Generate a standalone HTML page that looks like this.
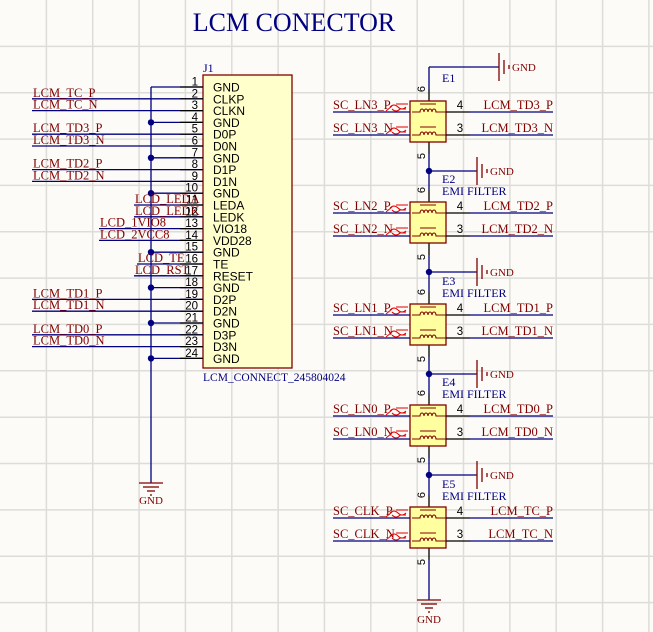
<!DOCTYPE html>
<html><head><meta charset="utf-8"><style>
html,body{margin:0;padding:0;background:#fdfbf7}
svg{display:block}
.s{font-family:"Liberation Serif",serif}
.a{font-family:"Liberation Sans",sans-serif}
</style></head><body>
<svg id="g" width="653" height="632" xmlns="http://www.w3.org/2000/svg"></svg>
<script>
var s='';
var G=46.35;
for(var i=1;i<15;i++){var v=(i*G).toFixed(1);s+='<line x1="'+v+'" y1="0" x2="'+v+'" y2="632" stroke="#dcdcd8" stroke-width="1.5"/>';s+='<line x1="0" y1="'+v+'" x2="653" y2="'+v+'" stroke="#dcdcd8" stroke-width="1.5"/>';}
var B='#000080',R='#800000';
function L(x1,y1,x2,y2,c,w){s+='<line x1="'+x1+'" y1="'+y1+'" x2="'+x2+'" y2="'+y2+'" stroke="'+c+'" stroke-width="'+(w||1.3)+'"/>';}
function T(x,y,t,c,sz,cls,anc,extra){s+='<text x="'+x+'" y="'+y+'" fill="'+c+'" font-size="'+sz+'" class="'+cls+'"'+(anc?' text-anchor="'+anc+'"':'')+(extra||'')+'>'+t+'</text>';}
function D(x,y){s+='<circle cx="'+x+'" cy="'+y+'" r="3.2" fill="'+B+'"/>';}
T(294,31,'LCM CONECTOR',B,26,'s','middle');
s+='<rect x="203" y="75" width="89" height="293" fill="#ffffcc" stroke="'+R+'" stroke-width="1.3"/>';
T(203,72,'J1',B,12,'s');
T(203,381,'LCM_CONNECT_245804024',B,11.5,'s');
var names=['GND','CLKP','CLKN','GND','D0P','D0N','GND','D1P','D1N','GND','LEDA','LEDK','VIO18','VDD28','GND','TE','RESET','GND','D2P','D2N','GND','D3P','D3N','GND'];
var nets={2:['LCM_TC_P',33],3:['LCM_TC_N',33],5:['LCM_TD3_P',33],6:['LCM_TD3_N',33],8:['LCM_TD2_P',33],9:['LCM_TD2_N',33],11:['LCD_LEDA',135],12:['LCD_LEDK',135],13:['LCD_1VIO8',100],14:['LCD_2VCC8',100],16:['LCD_TE',138],17:['LCD_RST',135],19:['LCM_TD1_P',33],20:['LCM_TD1_N',33],22:['LCM_TD0_P',33],23:['LCM_TD0_N',33]};
var gnd=[1,4,7,10,15,18,21,24];
L(151,87,151,483,B);
for(var p=1;p<=24;p++){var y=87+(p-1)*11.8;
 if(nets[p]){L(nets[p][1]-1,y,203,y,B);T(nets[p][1],y-2,nets[p][0],R,12.5,'s');}
 if(gnd.indexOf(p)>=0){L(151,y,203,y,B);if(p>1)D(151,y);}
 L(180,y,203,y,'#000',1.2);
 T(198,y-1.5,p,'#000',11.5,'a','end');
 T(213,y+4.5,names[p-1],'#000',12,'a');}
L(139,483,163,483,R);L(143,487,159,487,R);L(147,491,155,491,R);L(150,495,152,495,R);
T(151,504,'GND',R,11,'s','middle');
function gsym(x,y){L(x,y-14,x,y+14,R);L(x+5,y-7,x+5,y+7,R);L(x+10,y-2,x+10,y+2,R);T(x+13,y+4,'GND',R,11,'s');}
var X=429;
L(X,67,499,67,B);gsym(499,67);
var tops=[101,202,304,405,507];
var E=[['SC_LN3_P','SC_LN3_N','LCM_TD3_P','LCM_TD3_N'],['SC_LN2_P','SC_LN2_N','LCM_TD2_P','LCM_TD2_N'],['SC_LN1_P','SC_LN1_N','LCM_TD1_P','LCM_TD1_N'],['SC_LN0_P','SC_LN0_N','LCM_TD0_P','LCM_TD0_N'],['SC_CLK_P','SC_CLK_N','LCM_TC_P','LCM_TC_N']];
var prev=67;
for(var k=0;k<5;k++){var t=tops[k],b=t+41;
 L(X,prev,X,t-12,B);L(X,t-12,X,t,'#000');
 T(0,0,'6','#000',11,'a','middle',' transform="translate('+(X-4)+','+(t-12)+') rotate(-90)"');
 L(X,b,X,b+12,'#000');
 T(0,0,'5','#000',11,'a','middle',' transform="translate('+(X-4)+','+(b+14)+') rotate(-90)"');
 if(k<4){var j=t+70;L(X,b+12,X,j,B);D(X,j);L(X,j,477,j,B);gsym(477,j);prev=j;}
 else{L(X,b+12,X,600,B);L(417,600,441,600,R);L(421,604,437,604,R);L(425,608,433,608,R);L(428,612,430,612,R);T(429,623,'GND',R,11,'s','middle');}
 T(442,t-19,'E'+(k+1),B,12,'s');
 if(k>0)T(442,t-7,'EMI FILTER',B,12,'s');
 s+='<rect x="410" y="'+t+'" width="36" height="41" fill="#ffffa0" stroke="'+R+'" stroke-width="1.3"/>';
 var ys=[t+11,t+34];
 for(var q=0;q<2;q++){var y=ys[q];
  L(333,y,410,y,B);T(333,y-3,E[k][q],R,12.5,'s');
  s+='<path d="M386 '+(y-1)+' L392 '+(y-6)+' M390 '+(y-5)+' q4 -4 8 0 q4 4 8 0 M392 '+(y-3)+' q4 4 8 0 h6 M396 '+(y-8)+' h12" stroke="#e00000" fill="none" stroke-width="1"/>';
  s+='<path d="M420 '+(y-8)+' h16 M412 '+y+' h8 a2 3 0 0 1 4 0 a2 3 0 0 1 4 0 a2 3 0 0 1 4 0 a2 3 0 0 1 4 0 h10" stroke="'+R+'" fill="none" stroke-width="1.1"/>';
  L(446,y,470,y,'#000',1.2);L(470,y,553,y,B);
  T(460,y-3,q==0?'4':'3','#000',11.5,'a','middle');
  T(553,y-3,E[k][q+2],R,12.5,'s','end');}
}
document.getElementById('g').innerHTML=s;
</script>
</body></html>
